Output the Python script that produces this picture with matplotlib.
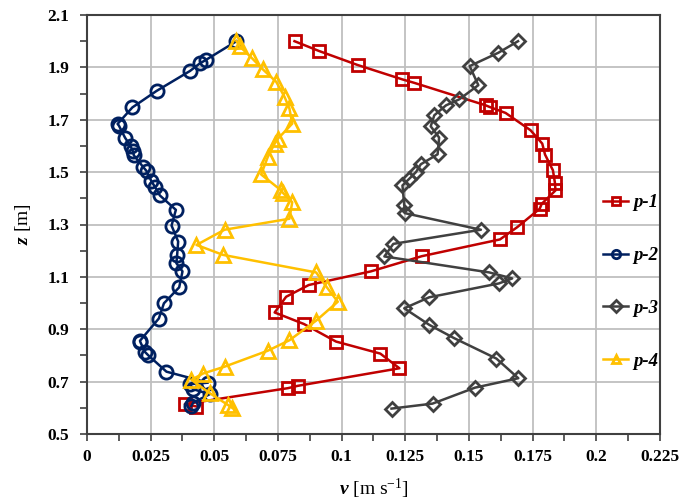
import matplotlib
matplotlib.use("Agg")
import matplotlib.pyplot as plt
from matplotlib.ticker import MultipleLocator

plt.rcParams['font.family'] = 'Liberation Serif'
plt.rcParams['mathtext.fontset'] = 'custom'
plt.rcParams['mathtext.rm'] = 'Liberation Serif'
plt.rcParams['mathtext.it'] = 'Liberation Serif:italic'
plt.rcParams['mathtext.bf'] = 'Liberation Serif:bold'
plt.rcParams['mathtext.bfit'] = 'Liberation Serif:bold:italic'

# velocity profiles v(z) at four points
v1 = [0.0815, 0.091, 0.1063, 0.1239, 0.1285, 0.1566, 0.1581, 0.1644, 0.1742, 0.1788,
      0.1799, 0.183, 0.1838, 0.184, 0.1786, 0.1778, 0.169, 0.1622, 0.1315, 0.1115,
      0.0871, 0.0782, 0.0737, 0.0852, 0.0978, 0.1152, 0.1227, 0.0828, 0.0789, 0.0384, 0.043]
z1 = [2.0, 1.963, 1.909, 1.854, 1.841, 1.755, 1.749, 1.726, 1.66, 1.609,
      1.567, 1.507, 1.458, 1.43, 1.379, 1.36, 1.29, 1.243, 1.179, 1.121,
      1.069, 1.024, 0.964, 0.92, 0.853, 0.807, 0.751, 0.684, 0.675, 0.614, 0.605]

v2 = [0.0587, 0.0466, 0.0443, 0.0404, 0.0273, 0.0178, 0.012, 0.0125, 0.0149, 0.0171,
      0.018, 0.0184, 0.0221, 0.0234, 0.0253, 0.0266, 0.0286, 0.0349, 0.0332, 0.0358,
      0.0354, 0.0351, 0.0375, 0.0362, 0.0302, 0.0282, 0.0208, 0.021, 0.0227, 0.024,
      0.0312, 0.0475, 0.0404, 0.0417, 0.0482, 0.0417, 0.041]
z2 = [2.0, 1.928, 1.915, 1.886, 1.81, 1.747, 1.684, 1.678, 1.632, 1.599,
      1.58, 1.564, 1.519, 1.504, 1.465, 1.445, 1.411, 1.356, 1.296, 1.235,
      1.184, 1.152, 1.121, 1.06, 0.999, 0.941, 0.856, 0.85, 0.814, 0.801,
      0.738, 0.696, 0.69, 0.671, 0.652, 0.62, 0.607]

v3 = [0.1693, 0.1616, 0.1503, 0.1537, 0.1462, 0.141, 0.1364, 0.135, 0.1383, 0.1377,
      0.1311, 0.1292, 0.1266, 0.1239, 0.1246, 0.125, 0.1547, 0.1203, 0.1168, 0.158,
      0.167, 0.1618, 0.1344, 0.1246, 0.1344, 0.1442, 0.1608, 0.1694, 0.1524, 0.1357, 0.1196]
z3 = [2.0, 1.956, 1.905, 1.832, 1.778, 1.755, 1.717, 1.675, 1.632, 1.568,
      1.53, 1.5, 1.475, 1.449, 1.373, 1.343, 1.28, 1.226, 1.178, 1.117,
      1.094, 1.075, 1.022, 0.98, 0.917, 0.866, 0.788, 0.713, 0.677, 0.616, 0.597]

v4 = [0.0587, 0.06, 0.0649, 0.0691, 0.0743, 0.0776, 0.0795, 0.0806, 0.075, 0.0737,
      0.071, 0.0684, 0.0763, 0.077, 0.0806, 0.0795, 0.054, 0.043, 0.0534, 0.09,
      0.0942, 0.0985, 0.09, 0.0795, 0.071, 0.054, 0.0456, 0.041, 0.0482, 0.0555, 0.057]
z4 = [2.0, 1.98, 1.934, 1.892, 1.845, 1.787, 1.743, 1.685, 1.628, 1.609,
      1.558, 1.491, 1.43, 1.42, 1.385, 1.322, 1.28, 1.222, 1.184, 1.117,
      1.06, 1.005, 0.933, 0.858, 0.818, 0.757, 0.731, 0.707, 0.656, 0.61, 0.6]

xticks = [0, 0.025, 0.05, 0.075, 0.1, 0.125, 0.15, 0.175, 0.2, 0.225]
xlabels = ['0', '0.025', '0.05', '0.075', '0.1', '0.125', '0.15', '0.175', '0.2', '0.225']
yticks = [0.5, 0.7, 0.9, 1.1, 1.3, 1.5, 1.7, 1.9, 2.1]
ylabels = ['0.5', '0.7', '0.9', '1.1', '1.3', '1.5', '1.7', '1.9', '2.1']

fig = plt.figure(figsize=(6.99, 5), dpi=100)
ax = fig.add_axes([0.1245, 0.132, 0.8195, 0.838])

ax.plot(v1, z1, color='#C00000', lw=1.8, marker='s', ms=8, mfc='none', mew=2, label='p-1', zorder=3)
ax.plot(v2, z2, color='#002060', lw=1.8, marker='o', ms=9.5, mfc='none', mew=2, label='p-2', zorder=3)
ax.plot(v3, z3, color='#404040', lw=1.8, marker='D', ms=7, mfc='none', mew=2, label='p-3', zorder=3)
ax.plot(v4, z4, color='#FFC000', lw=1.8, marker='^', ms=9.5, mfc='none', mew=2, label='p-4', zorder=3)

ax.set_xlim(0, 0.225)
ax.set_ylim(0.5, 2.1)
ax.xaxis.set_minor_locator(MultipleLocator(0.0125))
ax.yaxis.set_minor_locator(MultipleLocator(0.1))
ax.set_xticks(xticks)
ax.set_xticklabels(xlabels)
ax.set_yticks(yticks)
ax.set_yticklabels(ylabels)

ax.grid(True, which='major', color='#BFBFBF', lw=1.3, zorder=0)
ax.set_axisbelow(True)
for s in ax.spines.values():
    s.set_color('#404040')
    s.set_linewidth(1.5)
ax.tick_params(which='both', direction='out', length=5, width=1.2, color='#404040')
ax.tick_params(axis='y', labelsize=12.5, pad=8)
ax.tick_params(axis='x', labelsize=12.5, pad=6)
for lab in ax.get_xticklabels() + ax.get_yticklabels():
    lab.set_fontweight('bold')

ax.set_xlabel(r'$\mathbfit{v}$ [m s$^{\mathrm{-1}}$]', fontsize=14, labelpad=8)
ax.set_ylabel(r'$\mathbfit{z}$ [m]', fontsize=14, labelpad=10)

leg = ax.legend(loc='center left', bbox_to_anchor=(0.885, 0.363), frameon=False,
                prop={'family': 'Liberation Serif', 'weight': 'bold', 'style': 'italic', 'size': 13.5},
                labelspacing=1.9, handlelength=1.3, handletextpad=0.3, borderpad=0, numpoints=1)
for h in leg.legend_handles:
    h.set_markersize(6)

fig.savefig('out.png', dpi=100)
